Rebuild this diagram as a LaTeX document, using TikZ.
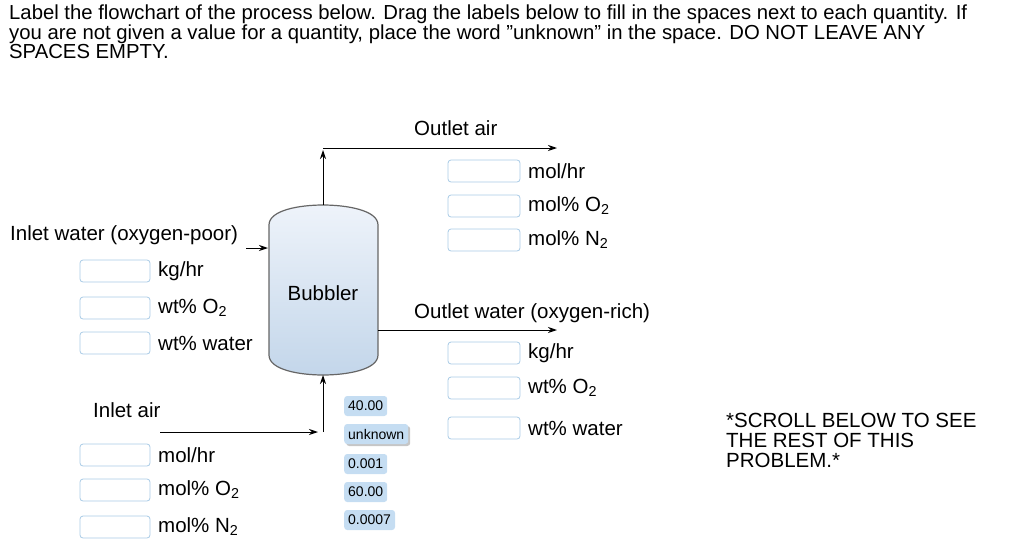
\documentclass[tikz,border=0pt]{standalone}
\usepackage{fontspec}
\setmainfont{Liberation Sans}
\usetikzlibrary{arrows.meta}
\definecolor{boxb}{HTML}{A9CBE6}
\definecolor{chip}{HTML}{C5DDF2}
\definecolor{vtop}{HTML}{EEF3FA}
\definecolor{vbot}{HTML}{C3D6EA}
\begin{document}
\begin{tikzpicture}[x=1pt,y=-1pt,
  lab/.style={font=\fontsize{20.5}{22}\selectfont,anchor=west,inner sep=0},
  inbox/.style={draw=boxb,line width=0.8pt,rounded corners=3pt,minimum width=70pt,minimum height=22pt,inner sep=0,fill=white},
  chipn/.style={fill=chip,rounded corners=3pt,font=\fontsize{14}{16}\selectfont,inner sep=4pt,minimum height=20pt,anchor=west},
  flow/.style={-{Stealth[length=9pt,width=6pt]},line width=1pt}]
\useasboundingbox (0,0) rectangle (1012,557);
\node[font=\fontsize{20.3}{18.5}\selectfont,anchor=north west,align=left,inner sep=0] (hdr) at (9,5) {Label the flowchart of the process below. Drag the labels below to fill in the spaces next to each quantity. If\\you are not given a value for a quantity, place the word "unknown" in the space. DO NOT LEAVE ANY\\SPACES EMPTY.};
% vessel
\path[draw=gray!80!black,line width=1.2pt,top color=vtop,bottom color=vbot]
 (269,225) .. controls (269,210) and (300,205) .. (323,205) .. controls (346,205) and (378,210) .. (378,225)
 -- (378,355) .. controls (378,370) and (346,375) .. (323,375) .. controls (300,375) and (269,370) .. (269,355) -- cycle;
\node[font=\fontsize{20.5}{22}\selectfont] (bub) at (323,293) {Bubbler};
\coordinate (vt) at (323,205); \coordinate (vb) at (323,375);
\coordinate (up) at (323,150); \coordinate (oa) at (557,148);
\coordinate (ow0) at (378,330); \coordinate (ow) at (557,330);
\coordinate (iw0) at (246,248); \coordinate (iw) at (268,248);
\coordinate (ia0) at (160,432); \coordinate (ia) at (318,432); \coordinate (ia1) at (323,432);
\draw[flow] (vt) -- (up);
\draw[flow] (323,148) -- (oa);
\draw[flow] (ow0) -- (ow);
\draw[flow] (iw0) -- (iw);
\draw[flow] (ia0) -- (ia);
\draw[flow] (ia1) -- (vb);
% labels
\node[lab] (toa) at (414,128) {Outlet air};
\node[lab] (tiw) at (10,235) {Inlet water (oxygen-poor)};
\node[lab] (tow) at (414,313) {Outlet water (oxygen-rich)};
\node[lab] (tia) at (93,410) {Inlet air};
% left boxes
\foreach \y/\t [count=\i] in {271/{kg/hr},308/{wt\% O\textsubscript{2}},343/{wt\% water},455/{mol/hr},490/{mol\% O\textsubscript{2}},527/{mol\% N\textsubscript{2}}}{
  \node[inbox] (lb\i) at (115,\y) {};
  \node[lab] (lt\i) at (158,\y) {\t};}
\foreach \y/\t [count=\i] in {171/{mol/hr},206/{mol\% O\textsubscript{2}},240/{mol\% N\textsubscript{2}},353/{kg/hr},388/{wt\% O\textsubscript{2}},428/{wt\% water}}{
  \node[inbox,minimum width=72pt] (rb\i) at (484,\y) {};
  \node[lab] (rt\i) at (528,\y) {\t};}
% chips
\node[chipn] (c1) at (344,406) {40.00};
\node[chipn,fill=gray!45,xshift=2pt,yshift=-2pt] (c2s) at (344,434) {unknown};
\node[chipn] (c2) at (344,434) {unknown};
\node[chipn] (c3) at (344,464) {0.001};
\node[chipn] (c4) at (344,492) {60.00};
\node[chipn] (c5) at (344,520) {0.0007};
\node[font=\fontsize{20.5}{20}\selectfont,anchor=north west,align=left,inner sep=0] (scr) at (726,413) {*SCROLL BELOW TO SEE\\THE REST OF THIS\\PROBLEM.*};
\end{tikzpicture}
\end{document}
